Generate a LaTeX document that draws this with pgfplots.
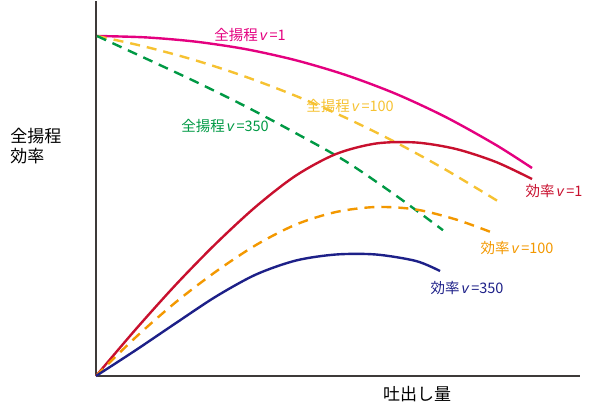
\documentclass[border=0pt]{standalone}
\usepackage{pgfplots}
\pgfplotsset{compat=1.18}
\usepackage{fontspec}
\setmainfont{Noto Sans CJK JP}
\newfontfamily\vfont{Liberation Sans}
\newcommand{\vv}{{\vfont\itshape v}\hspace{2.5bp}}
\definecolor{cmag}{HTML}{E4007F}
\definecolor{cyel}{HTML}{F6C232}
\definecolor{cgrn}{HTML}{009944}
\definecolor{cred}{HTML}{C8102E}
\definecolor{corg}{HTML}{F39800}
\definecolor{cnav}{HTML}{1D2088}
\definecolor{caxis}{HTML}{3E3A39}
\begin{document}
\begin{tikzpicture}
\begin{axis}[
  scale only axis, width=484bp, height=375bp,
  xmin=0, xmax=484, ymin=0, ymax=375,
  axis lines=left, axis line style={-, caxis, line width=2bp},
  xtick=\empty, ytick=\empty, clip=false,
  every axis plot/.append style={smooth, line width=2.4bp, no markers},
]
\addplot[cmag] coordinates {(1,340) (50,338.6) (100,334.3) (150,326.8) (200,315.7) (250,300.9) (300,282.1) (350,258.8) (400,231) (436,208)};
\addplot[cyel, dash pattern=on 10bp off 7bp] coordinates {(1,340) (50,329.1) (100,315.5) (150,299.1) (200,280) (250,258.1) (300,233.5) (350,206.1) (401,175.4)};
\addplot[cgrn, dash pattern=on 10bp off 7bp] coordinates {(1,340) (50,317.4) (100,294.1) (150,269.4) (200,242.7) (250,214.5) (300,180.4) (347,145.8)};
\addplot[cred] coordinates {(0,0) (40,47) (80,91.5) (120,132.5) (160,169.5) (200,200.5) (240,222) (280,232.5) (320,233.5) (360,227) (400,214) (436,197)};
\addplot[corg, dash pattern=on 10bp off 7bp] coordinates {(0,0) (40,39) (80,74) (120,104.5) (160,131) (200,151.5) (240,164) (280,169) (320,166.5) (360,156.5) (396,143.5)};
\addplot[cnav] coordinates {(0,0) (40,26) (80,53) (120,79.5) (160,101.5) (200,115.5) (240,121.5) (280,121.5) (320,115) (344,105)};
\begin{scope}[font=\fontsize{14.5bp}{16bp}\selectfont]
\node[cmag] at (axis cs:154,341) {全揚程\hspace{2bp}\vv=1};
\node[cyel] at (axis cs:254,270) {全揚程\hspace{2bp}\vv=100};
\node[cgrn] at (axis cs:129,250) {全揚程\hspace{2bp}\vv=350};
\node[cred] at (axis cs:458,185) {効率\hspace{2bp}\vv=1};
\node[corg] at (axis cs:421,128) {効率\hspace{2bp}\vv=100};
\node[cnav] at (axis cs:371,88) {効率\hspace{2bp}\vv=350};
\end{scope}
\node[align=left, font=\fontsize{17bp}{20bp}\selectfont] at (axis cs:-60,230) {全揚程\\効率};
\node[font=\fontsize{17bp}{20bp}\selectfont] at (axis cs:321,-18) {吐出し量};
\path (axis cs:-96,-34) rectangle (axis cs:504,375);
\end{axis}
\end{tikzpicture}
\end{document}
